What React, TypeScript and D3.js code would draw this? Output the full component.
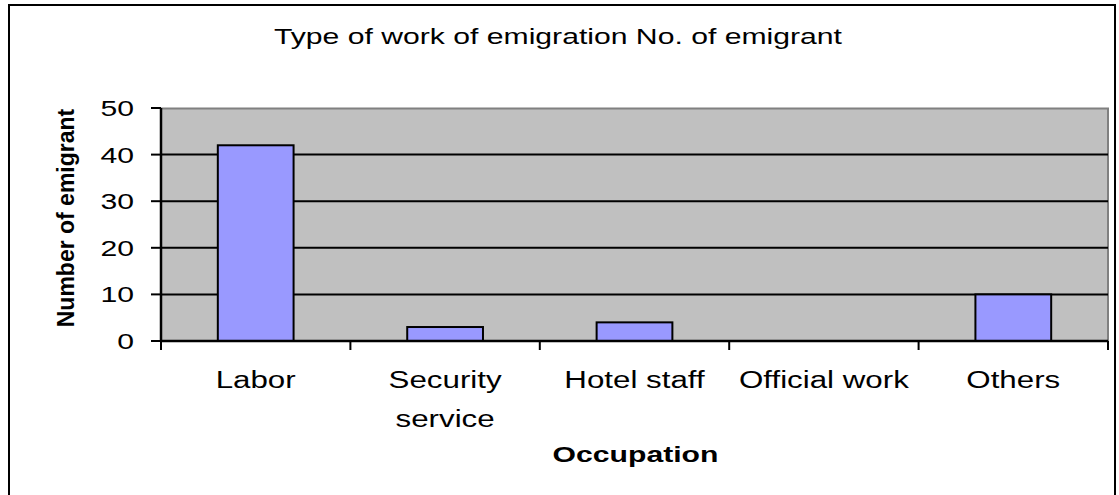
import React, { useEffect, useRef } from 'react'
import * as d3 from 'd3'

const categories = ['Labor', 'Security service', 'Hotel staff', 'Official work', 'Others']
const categoryLines = [['Labor'], ['Security', 'service'], ['Hotel staff'], ['Official work'], ['Others']]
const emigrants = [42, 3, 4, 0, 10]
const yTicks = [0, 10, 20, 30, 40, 50]

const chartTitle = 'Type of work of emigration No. of emigrant'
const xTitle = 'Occupation'
const yTitle = 'Number of emigrant'

const FONT = '"Liberation Sans", Arial, Helvetica, sans-serif'
// the source picture is stretched sideways, so text is widened to match
const STRETCH = 1.37

function App() {
  const ref = useRef<SVGSVGElement | null>(null)

  useEffect(() => {
    const svg = d3.select(ref.current)
    svg.selectAll('*').remove()

    const svgWidth = 1119
    const svgHeight = 495
    const margin = { top: 108, right: 11, bottom: 154, left: 161 }
    const width = svgWidth - margin.left - margin.right
    const height = svgHeight - margin.top - margin.bottom

    const stretch = (sel: any, factor = STRETCH) => {
      sel.each(function (this: SVGTextElement) {
        const len = this.getComputedTextLength()
        d3.select(this).attr('textLength', len * factor).attr('lengthAdjust', 'spacingAndGlyphs')
      })
    }

    // outer frame
    svg
      .append('rect')
      .attr('x', 9)
      .attr('y', 5)
      .attr('width', 1106)
      .attr('height', 500)
      .attr('fill', 'white')
      .attr('stroke', 'black')
      .attr('stroke-width', 2)

    const group = svg.append('g').attr('transform', `translate(${margin.left}, ${margin.top})`)

    const x = d3
      .scaleBand()
      .domain(categories)
      .range([0, width])
      .paddingInner(0.6)
      .paddingOuter(0.3)
    const step = width / categories.length
    const y = d3.scaleLinear().domain([0, 50]).range([height, 0])

    // plot area
    group
      .append('rect')
      .attr('width', width)
      .attr('height', height)
      .attr('fill', '#C0C0C0')
    group
      .append('path')
      .attr('d', `M0,0.5H${width}V${height}`)
      .attr('fill', 'none')
      .attr('stroke', '#808080')
      .attr('stroke-width', 2)

    // gridlines
    group
      .selectAll('.grid')
      .data(yTicks.filter(t => t > 0 && t < 50))
      .enter()
      .append('line')
      .attr('x1', 0)
      .attr('x2', width)
      .attr('y1', d => y(d))
      .attr('y2', d => y(d))
      .attr('stroke', 'black')
      .attr('stroke-width', 2)

    // bars
    group
      .selectAll('.bar')
      .data(emigrants.map((v, i) => ({ v, c: categories[i] })).filter(d => d.v > 0))
      .enter()
      .append('rect')
      .attr('x', d => x(d.c) as number)
      .attr('width', x.bandwidth())
      .attr('y', d => y(d.v))
      .attr('height', d => height - y(d.v))
      .attr('fill', '#9999FF')
      .attr('stroke', 'black')
      .attr('stroke-width', 2)

    // y axis
    group.append('line').attr('x1', 0).attr('x2', 0).attr('y1', 0).attr('y2', height + 1).attr('stroke', 'black').attr('stroke-width', 2.5)
    group
      .selectAll('.ytick')
      .data(yTicks)
      .enter()
      .append('line')
      .attr('x1', -10)
      .attr('x2', 0)
      .attr('y1', d => y(d))
      .attr('y2', d => y(d))
      .attr('stroke', 'black')
      .attr('stroke-width', 2)
    const yLabels = group
      .selectAll('.ylab')
      .data(yTicks)
      .enter()
      .append('text')
      .attr('x', -27)
      .attr('y', d => y(d) + 8)
      .attr('text-anchor', 'end')
      .attr('font-family', FONT)
      .attr('font-size', 22)
      .attr('fill', 'black')
      .text(d => d)
    stretch(yLabels)

    // x axis
    group.append('line').attr('x1', 0).attr('x2', width).attr('y1', height).attr('y2', height).attr('stroke', 'black').attr('stroke-width', 2.5)
    group
      .selectAll('.xtick')
      .data(d3.range(categories.length + 1))
      .enter()
      .append('line')
      .attr('x1', i => i * step)
      .attr('x2', i => i * step)
      .attr('y1', height)
      .attr('y2', height + 9)
      .attr('stroke', 'black')
      .attr('stroke-width', 2)

    categories.forEach((c, i) => {
      const cx = (x(c) as number) + x.bandwidth() / 2
      const t = group
        .selectAll(`.xl${i}`)
        .data(categoryLines[i])
        .enter()
        .append('text')
        .attr('x', cx)
        .attr('y', (_, j) => height + 47 + j * 39)
        .attr('text-anchor', 'middle')
        .attr('font-family', FONT)
        .attr('font-size', 23)
        .attr('fill', 'black')
        .text(d => d)
      stretch(t, 1.36)
    })

    // titles
    const title = svg
      .append('text')
      .attr('x', 558)
      .attr('y', 44)
      .attr('text-anchor', 'middle')
      .attr('font-family', FONT)
      .attr('font-size', 22)
      .attr('fill', 'black')
      .text(chartTitle)
    stretch(title)

    const xt = svg
      .append('text')
      .attr('x', margin.left + width / 2 + 1)
      .attr('y', 462)
      .attr('text-anchor', 'middle')
      .attr('font-family', FONT)
      .attr('font-size', 22)
      .attr('font-weight', 'bold')
      .attr('fill', 'black')
      .text(xTitle)
    stretch(xt)

    const yt = svg
      .append('text')
      .attr('transform', 'translate(74, 218) rotate(-90)')
      .attr('text-anchor', 'middle')
      .attr('font-family', FONT)
      .attr('font-size', 23)
      .attr('font-weight', 'bold')
      .attr('fill', 'black')
      .text(yTitle)
    stretch(yt, 1.0)
  }, [])

  return (
    <svg
      ref={ref}
      width={1119}
      height={495}
      style={{ position: 'absolute', left: 0, top: 0, background: 'white' }}
    />
  )
}

export default App
